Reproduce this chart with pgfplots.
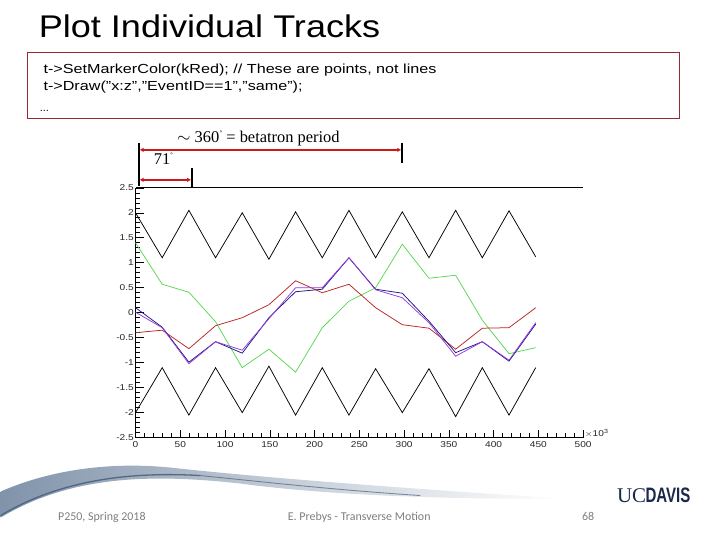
\documentclass[border=0pt]{standalone}
\usepackage{pgfplots}
\pgfplotsset{compat=1.18}
\usetikzlibrary{arrows.meta}
\usepackage{fontspec}
\setmainfont{Liberation Sans}
\newfontfamily\seriffont{Liberation Serif}
\newfontfamily\footfont{Carlito}
\definecolor{boxred}{RGB}{150,40,55}
\definecolor{arrred}{RGB}{205,25,25}
\definecolor{tgreen}{RGB}{90,215,80}
\definecolor{tred}{RGB}{185,35,35}
\definecolor{tblue}{RGB}{25,25,130}
\definecolor{tpurple}{RGB}{150,55,220}
\definecolor{navy}{RGB}{25,40,75}
\definecolor{footgray}{RGB}{125,125,125}
\definecolor{swA}{RGB}{105,128,155}
\definecolor{swB}{RGB}{70,92,120}
\begin{document}
\begin{tikzpicture}[x=1bp,y=1bp]
\path (0,0) rectangle (720,540);
% swoosh
\shade[left color=swA!85, right color=white, middle color=swA!40]
  (0,48) .. controls (50,70) and (110,78) .. (170,72)
  .. controls (260,62) and (420,50) .. (565,41)
  .. controls (450,40) and (330,44) .. (240,56)
  .. controls (150,66) and (70,64) .. (0,22) -- cycle;
\draw[swB, line width=1.3bp, opacity=0.85] (0,24) .. controls (60,60) and (130,68) .. (200,64);
\draw[swB, line width=0.9bp, opacity=0.65] (200,64) .. controls (260,58) and (330,50) .. (420,44);
% title
\node[anchor=base west, inner sep=0] at (38,502.7) {\scalebox{1.15}[1]{\fontsize{31.5}{34}\selectfont Plot Individual Tracks}};
% code box
\draw[boxred, line width=1bp] (27,487) rectangle (679.5,421);
\node[anchor=base west, inner sep=0] at (42.7,466.7) {\scalebox{1.23}[1]{\fontsize{13.2}{15}\selectfont t->SetMarkerColor(kRed); // These are points, not lines}};
\node[anchor=base west, inner sep=0] at (42.7,449) {\scalebox{1.23}[1]{\fontsize{13.2}{15}\selectfont t->Draw("x:z","EventID==1","same");}};
\node[anchor=base west, inner sep=0] at (39,428.5) {\fontsize{11}{13}\selectfont ...};
% chart
\begin{axis}[
  at={(135bp,102bp)}, anchor=south west, scale only axis,
  width=448bp, height=250bp,
  xmin=0, xmax=500, ymin=-2.5, ymax=2.5,
  clip=false,
  axis x line*=box, axis y line*=left,
  xtick={0,50,...,500}, ytick={-2.5,-2,...,2.5},
  minor x tick num=4, minor y tick num=4,
  xtick pos=left, ytick pos=left,
  tick align=inside,
  major tick length=8bp, minor tick length=4.5bp,
  tick style={black, line width=0.6bp},
  axis line style={black, line width=0.8bp},
  ticklabel style={font=\fontsize{8.5}{9}\selectfont, text=black!85},
  yticklabel style={inner xsep=1.5bp},
  /pgf/number format/assume math mode=true,
  xticklabel={\scalebox{1.2}[1]{\pgfmathprintnumber{\tick}}},
  yticklabel={\scalebox{1.2}[1]{\pgfmathprintnumber{\tick}}},
  every axis plot/.append style={line width=0.75bp, mark=none},
]
\addplot[black] coordinates {(0,2.0) (29.8,1.1) (59.6,2.05) (89.4,1.1) (119.2,2.0) (149,1.07) (178.8,2.02) (208.6,1.1) (238.4,2.05) (268.2,1.1) (298,2.02) (327.8,1.1) (357.6,2.05) (387.4,1.1) (417.2,2.04) (447,1.12)};
\addplot[black] coordinates {(0,-2.0) (29.8,-1.1) (59.6,-2.05) (89.4,-1.1) (119.2,-2.0) (149,-1.07) (178.8,-2.05) (208.6,-1.1) (238.4,-2.05) (268.2,-1.12) (298,-2.0) (327.8,-1.12) (357.6,-2.08) (387.4,-1.1) (417.2,-2.05) (447,-1.1)};
\addplot[tgreen] coordinates {(0,1.4) (29.8,0.57) (59.6,0.41) (89.4,-0.18) (119.2,-1.1) (149,-0.73) (178.8,-1.19) (208.6,-0.3) (238.4,0.23) (268.2,0.5) (298,1.37) (327.8,0.69) (357.6,0.75) (387.4,-0.15) (417.2,-0.82) (447,-0.7)};
\addplot[tred] coordinates {(0,-0.4) (29.8,-0.35) (59.6,-0.72) (89.4,-0.26) (119.2,-0.1) (149,0.16) (178.8,0.64) (208.6,0.4) (238.4,0.57) (268.2,0.1) (298,-0.24) (327.8,-0.31) (357.6,-0.73) (387.4,-0.31) (417.2,-0.3) (447,0.1)};
\addplot[tblue] coordinates {(0,0.1) (29.8,-0.29) (59.6,-0.99) (89.4,-0.58) (119.2,-0.81) (149,-0.1) (178.8,0.42) (208.6,0.47) (238.4,1.1) (268.2,0.47) (298,0.39) (327.8,-0.17) (357.6,-0.8) (387.4,-0.58) (417.2,-0.97) (447,-0.23)};
\addplot[tpurple] coordinates {(0,0.01) (29.8,-0.3) (59.6,-1.02) (89.4,-0.58) (119.2,-0.75) (149,-0.12) (178.8,0.5) (208.6,0.5) (238.4,1.1) (268.2,0.46) (298,0.3) (327.8,-0.2) (357.6,-0.87) (387.4,-0.58) (417.2,-0.95) (447,-0.2)};
\node[anchor=south west, inner sep=0, font=\fontsize{8.5}{9}\selectfont, text=black!85] at (rel axis cs:1,0) {\hspace{1.5bp}\scalebox{1.2}[1]{$\times$10\textsuperscript{3}}};
\end{axis}
% annotations
\draw[black, line width=2bp] (138,397) -- (138,354);
\draw[black, line width=2bp] (402,397) -- (402,377);
\draw[black, line width=2bp] (191.7,372) -- (191.7,353);
\draw[arrred, line width=1.8bp, {Latex[length=4bp,width=4.5bp]}-{Latex[length=4bp,width=4.5bp]}] (139,390) -- (401,390);
\draw[arrred, line width=1.8bp, {Latex[length=4bp,width=4.5bp]}-{Latex[length=4bp,width=4.5bp]}] (139,360) -- (190.7,360);
\node[anchor=base, inner sep=0] at (258,397.5) {\seriffont\fontsize{16.5}{18}\selectfont $\sim$ 360\raisebox{5bp}{\fontsize{9}{9}\selectfont\char"02DA} = betatron period};
\node[anchor=base, inner sep=0] at (163,375) {\seriffont\fontsize{16.5}{18}\selectfont 71\raisebox{5bp}{\fontsize{9}{9}\selectfont\char"02DA}};
% footer
\node[anchor=base west, inner sep=0, text=footgray] at (57.3,19) {\footfont\fontsize{12}{14}\selectfont P250, Spring 2018};
\node[anchor=base west, inner sep=0, text=footgray] at (287.3,19) {\footfont\fontsize{12}{14}\selectfont E. Prebys - Transverse Motion};
\node[anchor=base west, inner sep=0, text=footgray] at (581.7,19) {\footfont\fontsize{12}{14}\selectfont 68};
\node[anchor=base west, inner sep=0, text=navy] at (616.7,36.7) {\seriffont\fontsize{21}{22}\selectfont UC\hspace{-0.5bp}\scalebox{0.72}[1]{\fontspec{Liberation Sans}\bfseries DAVIS}};
\end{tikzpicture}
\end{document}
